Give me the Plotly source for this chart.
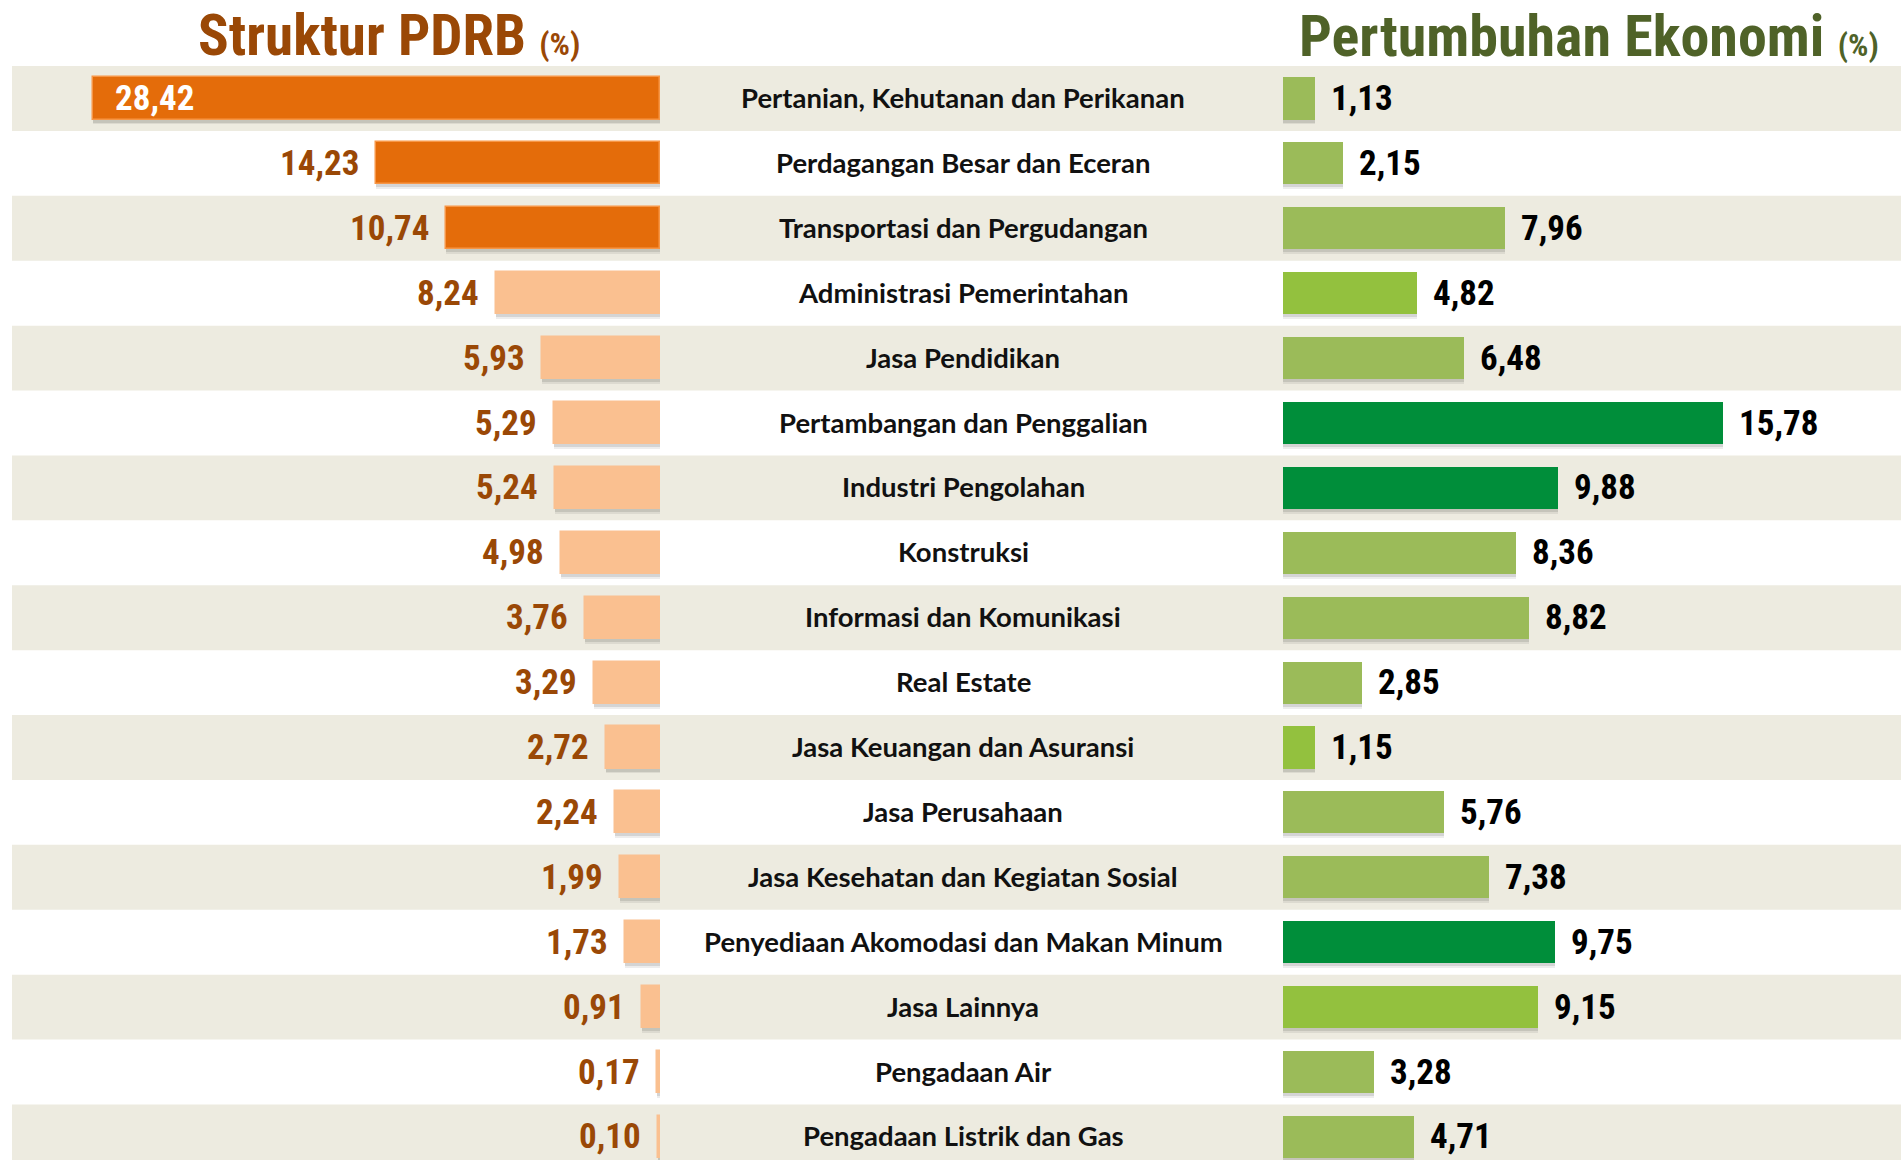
import plotly.graph_objects as go

categories = [
    "Pertanian, Kehutanan dan Perikanan",
    "Perdagangan Besar dan Eceran",
    "Transportasi dan Pergudangan",
    "Administrasi Pemerintahan",
    "Jasa Pendidikan",
    "Pertambangan dan Penggalian",
    "Industri Pengolahan",
    "Konstruksi",
    "Informasi dan Komunikasi",
    "Real Estate",
    "Jasa Keuangan dan Asuransi",
    "Jasa Perusahaan",
    "Jasa Kesehatan dan Kegiatan Sosial",
    "Penyediaan Akomodasi dan Makan Minum",
    "Jasa Lainnya",
    "Pengadaan Air",
    "Pengadaan Listrik dan Gas",
]
struktur_pdrb = [28.42, 14.23, 10.74, 8.24, 5.93, 5.29, 5.24, 4.98, 3.76, 3.29,
                 2.72, 2.24, 1.99, 1.73, 0.91, 0.17, 0.10]
pertumbuhan = [1.13, 2.15, 7.96, 4.82, 6.48, 15.78, 9.88, 8.36, 8.82, 2.85,
               1.15, 5.76, 7.38, 9.75, 9.15, 3.28, 4.71]
# colour group of each growth bar: 0 = olive, 1 = bright green, 2 = dark green
growth_group = [0, 0, 0, 1, 0, 2, 2, 0, 0, 0, 1, 0, 0, 2, 1, 0, 0]
top_n_dark = 3

W, H = 1901, 1160
ORANGE_DARK = "#E46C0A"
ORANGE_LIGHT = "#FAC090"
GREEN_COLORS = ["#9BBB59", "#93C13E", "#008E3A"]
BROWN = "#9A4806"
OLIVE_TITLE = "#4F6228"
BAND = "#EDEBE0"
NUM_FONT = "Liberation Sans Narrow, Arial Narrow, Roboto Condensed, sans-serif"
LBL_FONT = "Lato, Carlito, Calibri, Open Sans, sans-serif"

n = len(categories)
idx = list(range(n))
fmt = lambda v: f"{v:.2f}".replace(".", ",")

left_colors = [ORANGE_DARK if i < top_n_dark else ORANGE_LIGHT for i in idx]
left_lines = ["#F79646" if i < top_n_dark else ORANGE_LIGHT for i in idx]
right_colors = [GREEN_COLORS[g] for g in growth_group]

BW = 0.65
fig = go.Figure()

# shadows
for xa, vals in (("x", struktur_pdrb), ("x2", pertumbuhan)):
    for dy, a in ((0.045, 0.10), (0.075, 0.07)):
        fig.add_trace(go.Bar(
            y=idx, x=vals, orientation="h", xaxis=xa, yaxis="y",
            width=BW, offset=-BW / 2 + dy,
            marker=dict(color=f"rgba(0,0,0,{a})", line=dict(width=0)),
            hoverinfo="skip", showlegend=False))

fig.add_trace(go.Bar(
    y=idx, x=struktur_pdrb, orientation="h", xaxis="x", yaxis="y",
    width=BW, offset=-BW / 2,
    marker=dict(color=left_colors, line=dict(color=left_lines, width=1.5)),
    customdata=categories, hovertemplate="%{customdata}: %{x}<extra>Struktur PDRB</extra>",
    showlegend=False))
fig.add_trace(go.Bar(
    y=idx, x=pertumbuhan, orientation="h", xaxis="x2", yaxis="y",
    width=BW, offset=-BW / 2,
    marker=dict(color=right_colors, line=dict(width=0)),
    customdata=categories, hovertemplate="%{customdata}: %{x}<extra>Pertumbuhan</extra>",
    showlegend=False))

annotations = []
for i, c in enumerate(categories):
    annotations.append(dict(
        x=963 / W, y=i, xref="paper", yref="y", text=c, showarrow=False,
        xanchor="center", yanchor="middle", yshift=1,
        font=dict(family=LBL_FONT, size=27.5, color="#111111", weight="bold")))
for i, v in enumerate(struktur_pdrb):
    inside = v > 20
    annotations.append(dict(
        x=v, y=i, xref="x", yref="y", text=fmt(v), showarrow=False,
        xanchor="left" if inside else "right", xshift=20 if inside else -15,
        yanchor="middle",
        font=dict(family=NUM_FONT, size=35, color="white" if inside else BROWN, weight="bold")))
for i, v in enumerate(pertumbuhan):
    annotations.append(dict(
        x=v, y=i, xref="x2", yref="y", text=fmt(v), showarrow=False,
        xanchor="left", xshift=14, yanchor="middle",
        font=dict(family=NUM_FONT, size=35, color="black", weight="bold")))

annotations.append(dict(
    x=389 / W, y=1 - 36 / H, xref="paper", yref="paper", showarrow=False,
    xanchor="center", yanchor="middle",
    text="Struktur PDRB <span style='font-size:32px'>(%)</span>",
    font=dict(family=NUM_FONT, size=57, color=BROWN, weight="bold")))
annotations.append(dict(
    x=1589 / W, y=1 - 36 / H, xref="paper", yref="paper", showarrow=False,
    xanchor="center", yanchor="middle",
    text="Pertumbuhan Ekonomi <span style='font-size:32px'>(%)</span>",
    font=dict(family=NUM_FONT, size=58, color=OLIVE_TITLE, weight="bold")))

shapes = []
for i in idx:
    if i % 2 == 0:
        shapes.append(dict(type="rect", xref="paper", yref="y", x0=12 / W, x1=1,
                           y0=i - 0.5, y1=i + 0.5, fillcolor=BAND,
                           line=dict(width=0), layer="below"))

row_h = 64.9
top_center = 98.5
r_top = -top_center / row_h
r_bot = r_top + H / row_h

left_px_per_unit = (660 - 93) / 28.42
right_px_per_unit = (1723 - 1283) / 15.78

fig.update_layout(
    width=W, height=H, margin=dict(l=0, r=0, t=0, b=0),
    paper_bgcolor="white", plot_bgcolor="rgba(0,0,0,0)",
    barmode="overlay", bargap=0,
    xaxis=dict(domain=[0, 660 / W], range=[660 / left_px_per_unit, 0],
               visible=False, fixedrange=True),
    xaxis2=dict(domain=[1283 / W, 1], range=[0, (W - 1283) / right_px_per_unit],
                visible=False, fixedrange=True),
    yaxis=dict(range=[r_bot, r_top], visible=False, fixedrange=True),
    shapes=shapes, annotations=annotations,
)

fig.write_html("out.html", config={"displayModeBar": False},
               post_script="document.body.style.margin='0';")
